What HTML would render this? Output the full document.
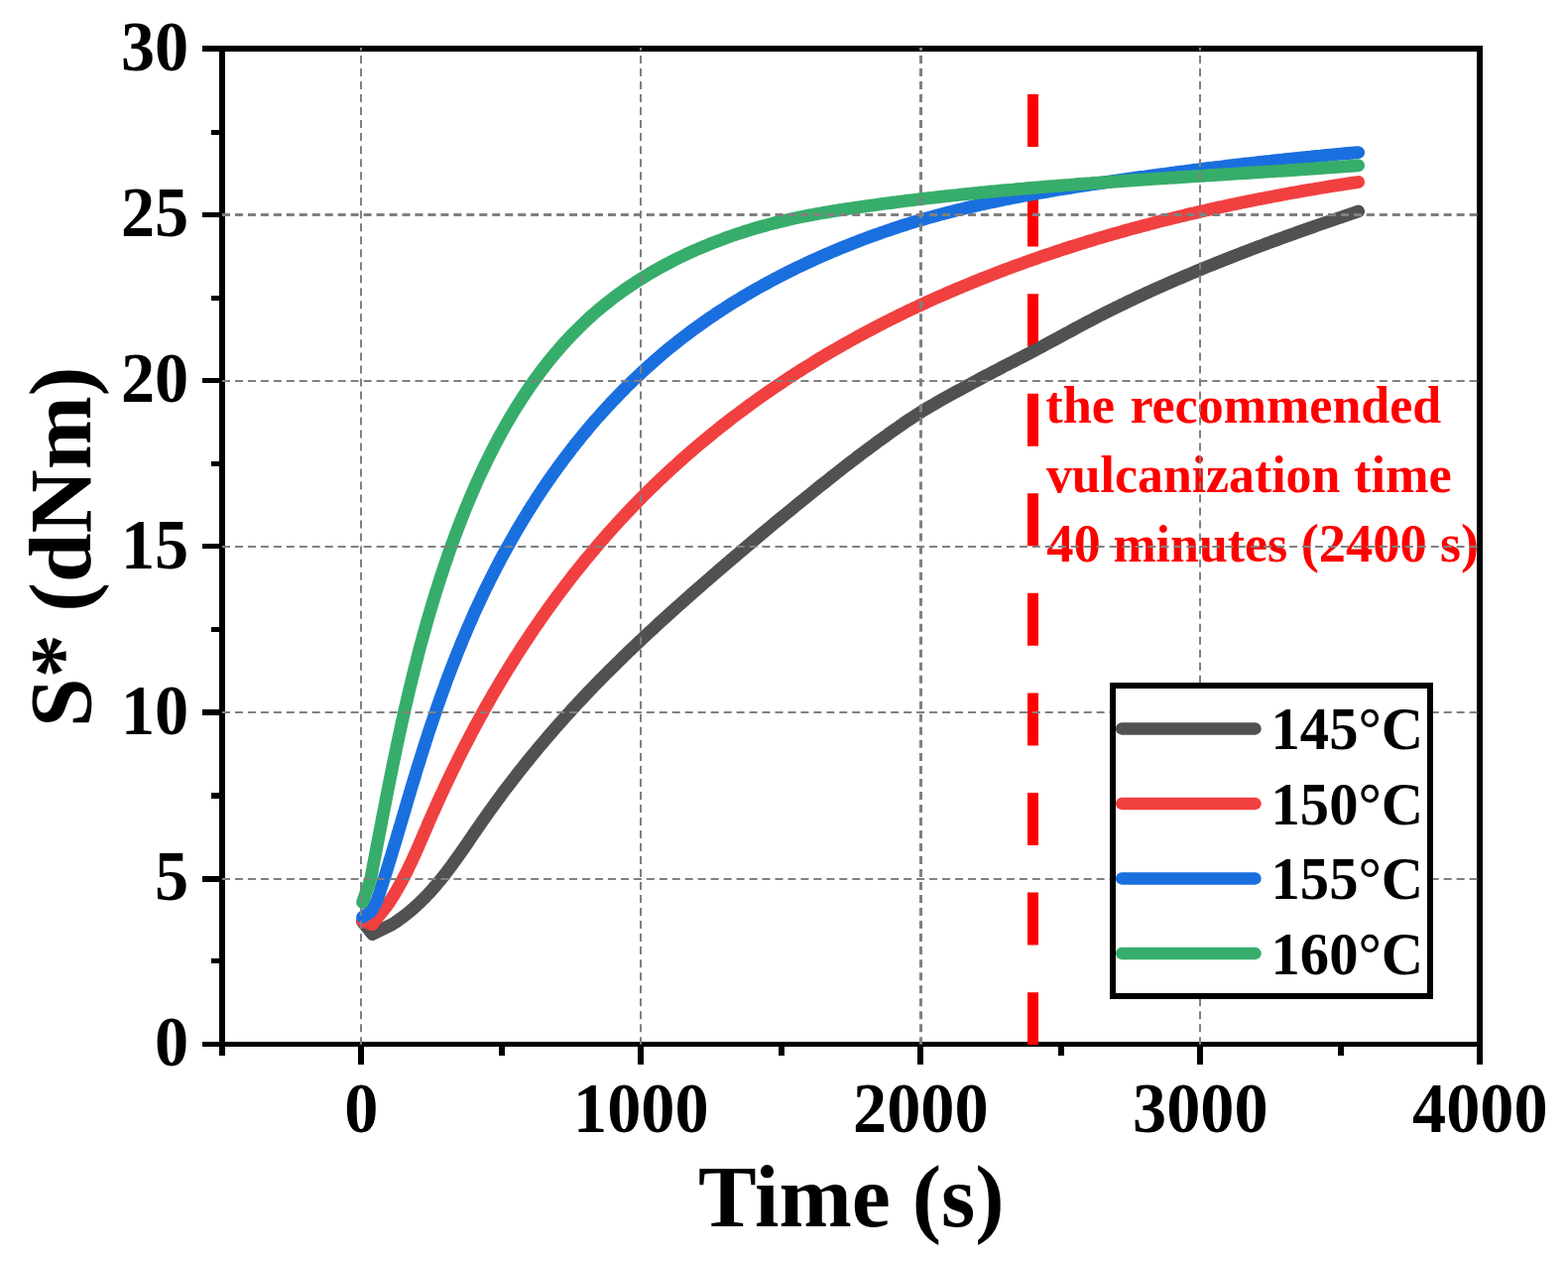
<!DOCTYPE html>
<html lang="en"><head><meta charset="utf-8"><title>S* vs Time</title>
<style>html,body{margin:0;padding:0;background:#fff;}body{width:1581px;height:1273px;overflow:hidden;}svg{display:block;}text{font-family:"Liberation Serif","Times New Roman",serif;font-weight:bold;}</style>
</head><body>
<svg width="1581" height="1273" viewBox="0 0 1581 1273" role="img" aria-label="S* versus Time vulcanization curves">
<rect x="0" y="0" width="1581" height="1273" fill="#ffffff"/>
<g fill="#000" shape-rendering="crispEdges">
<rect x="204" y="46" width="1291" height="6"/>
<rect x="204" y="1050" width="1291" height="5"/>
<rect x="221" y="46" width="6" height="1018"/>
<rect x="1489" y="46" width="6" height="1027"/>
<rect x="204" y="883" width="20" height="6"/>
<rect x="204" y="715" width="20" height="6"/>
<rect x="204" y="548" width="20" height="5"/>
<rect x="204" y="381" width="20" height="5"/>
<rect x="204" y="214" width="20" height="5"/>
<rect x="213" y="966" width="11" height="5"/>
<rect x="213" y="799" width="11" height="6"/>
<rect x="213" y="632" width="11" height="5"/>
<rect x="213" y="465" width="11" height="5"/>
<rect x="213" y="298" width="11" height="5"/>
<rect x="213" y="131" width="11" height="5"/>
<rect x="361" y="1052" width="6" height="21"/>
<rect x="643" y="1052" width="6" height="21"/>
<rect x="925" y="1052" width="6" height="21"/>
<rect x="1207" y="1052" width="6" height="21"/>
<rect x="503" y="1052" width="6" height="12"/>
<rect x="785" y="1052" width="6" height="12"/>
<rect x="1067" y="1052" width="6" height="12"/>
<rect x="1349" y="1052" width="6" height="12"/>
</g>
<line x1="1041.5" y1="95" x2="1041.5" y2="1053" stroke="#FF0000" stroke-width="11" stroke-dasharray="53 47.57"/>
<g fill="none" stroke-width="12.9" stroke-linecap="round" stroke-linejoin="round">
<path stroke="#515151" d="M365.5,929.0 L375.5,941.5 L395.5,931.6 L398.2,929.9 L400.8,928.1 L403.3,926.3 L405.8,924.5 L408.3,922.6 L410.7,920.7 L413.1,918.8 L415.5,916.8 L417.8,914.7 L420.1,912.7 L422.3,910.6 L424.5,908.5 L426.7,906.3 L428.9,904.1 L431.0,901.9 L433.1,899.7 L435.1,897.4 L437.2,895.1 L439.2,892.8 L441.1,890.5 L443.1,888.1 L445.0,885.8 L447.0,883.4 L448.9,880.9 L450.7,878.5 L452.6,876.1 L454.4,873.6 L456.3,871.1 L458.1,868.6 L459.9,866.1 L461.7,863.6 L463.5,861.1 L465.2,858.6 L467.0,856.0 L468.8,853.5 L470.5,850.9 L472.3,848.4 L474.0,845.8 L475.8,843.2 L477.5,840.7 L479.3,838.1 L481.0,835.5 L482.8,833.0 L484.6,830.4 L486.3,827.9 L488.1,825.3 L489.9,822.8 L491.7,820.3 L493.5,817.7 L495.3,815.2 L497.1,812.7 L498.9,810.2 L500.7,807.7 L502.6,805.2 L504.4,802.7 L506.2,800.2 L508.1,797.7 L510.0,795.2 L511.8,792.8 L513.7,790.3 L515.6,787.9 L517.5,785.4 L519.4,783.0 L521.3,780.5 L523.2,778.1 L525.1,775.7 L527.1,773.2 L529.0,770.8 L530.9,768.4 L532.9,766.0 L534.8,763.6 L536.8,761.2 L538.8,758.8 L540.7,756.4 L542.7,754.1 L544.7,751.7 L546.7,749.3 L548.7,747.0 L550.7,744.6 L552.7,742.3 L554.7,739.9 L556.8,737.6 L558.8,735.3 L560.8,732.9 L562.9,730.6 L564.9,728.3 L567.0,726.0 L569.0,723.7 L571.1,721.4 L573.2,719.1 L575.3,716.8 L577.3,714.5 L579.4,712.3 L581.5,710.0 L583.6,707.7 L585.7,705.5 L587.9,703.2 L590.0,701.0 L592.1,698.7 L594.2,696.5 L596.4,694.3 L598.5,692.0 L600.7,689.8 L602.8,687.6 L605.0,685.4 L607.1,683.2 L609.3,681.0 L611.5,678.8 L613.7,676.6 L615.9,674.4 L618.1,672.3 L620.3,670.1 L622.5,667.9 L624.7,665.8 L626.9,663.6 L629.1,661.4 L631.3,659.3 L633.5,657.2 L635.8,655.0 L638.0,652.9 L640.2,650.8 L642.5,648.6 L644.7,646.5 L647.0,644.4 L649.2,642.3 L651.5,640.2 L653.7,638.1 L656.0,636.0 L658.3,633.9 L660.6,631.8 L662.8,629.7 L665.1,627.6 L667.4,625.5 L669.7,623.4 L672.0,621.4 L674.3,619.3 L676.6,617.2 L678.9,615.2 L681.2,613.1 L683.5,611.0 L685.8,609.0 L688.1,606.9 L690.4,604.9 L692.7,602.8 L695.0,600.8 L697.4,598.7 L699.7,596.7 L702.0,594.7 L704.3,592.6 L706.7,590.6 L709.0,588.5 L711.3,586.5 L713.7,584.5 L716.0,582.5 L718.3,580.4 L720.7,578.4 L723.0,576.4 L725.3,574.4 L727.7,572.3 L730.0,570.3 L732.4,568.3 L734.7,566.3 L737.1,564.3 L739.4,562.3 L741.8,560.3 L744.1,558.3 L746.5,556.3 L748.9,554.3 L751.2,552.3 L753.6,550.3 L755.9,548.3 L758.3,546.3 L760.7,544.3 L763.0,542.3 L765.4,540.3 L767.8,538.3 L770.2,536.3 L772.5,534.3 L774.9,532.4 L777.3,530.4 L779.7,528.4 L782.0,526.4 L784.4,524.5 L786.8,522.5 L789.2,520.5 L791.6,518.6 L794.0,516.6 L796.4,514.7 L798.8,512.7 L801.2,510.7 L803.6,508.8 L806.0,506.8 L808.4,504.9 L810.8,503.0 L813.2,501.0 L815.6,499.1 L818.0,497.1 L820.4,495.2 L822.8,493.3 L825.2,491.3 L827.6,489.4 L830.1,487.5 L832.5,485.6 L834.9,483.7 L837.3,481.8 L839.7,479.8 L842.2,477.9 L844.6,476.0 L847.0,474.1 L849.5,472.2 L851.9,470.3 L854.3,468.4 L856.8,466.5 L859.2,464.7 L861.7,462.8 L864.1,460.9 L866.6,459.0 L869.0,457.2 L871.5,455.3 L874.0,453.5 L876.5,451.6 L878.9,449.8 L881.4,448.0 L883.9,446.1 L886.4,444.3 L888.9,442.5 L891.4,440.7 L893.9,438.9 L896.4,437.1 L898.9,435.3 L901.4,433.5 L904.0,431.7 L906.5,430.0 L909.0,428.2 L911.6,426.4 L914.1,424.7 L916.7,423.0 L919.2,421.3 L921.8,419.6 L924.4,417.9 L927.0,416.3 L929.6,414.6 L932.2,413.0 L934.9,411.4 L937.5,409.9 L940.2,408.3 L942.9,406.8 L945.5,405.2 L948.2,403.7 L950.9,402.2 L953.6,400.7 L956.3,399.2 L959.0,397.7 L961.7,396.2 L964.4,394.7 L967.1,393.3 L969.8,391.8 L972.5,390.3 L975.3,388.8 L978.0,387.4 L980.7,385.9 L983.4,384.4 L986.1,383.0 L988.8,381.5 L991.6,380.0 L994.3,378.6 L997.0,377.2 L999.8,375.7 L1002.5,374.3 L1005.2,372.9 L1008.0,371.5 L1010.7,370.0 L1013.5,368.6 L1016.2,367.2 L1019.0,365.8 L1021.7,364.4 L1024.4,363.0 L1027.2,361.6 L1029.9,360.2 L1032.7,358.7 L1035.4,357.3 L1038.2,355.9 L1040.9,354.4 L1043.6,353.0 L1046.3,351.6 L1049.1,350.1 L1051.8,348.7 L1054.5,347.2 L1057.2,345.7 L1059.9,344.3 L1062.7,342.8 L1065.4,341.3 L1068.1,339.9 L1070.8,338.4 L1073.5,336.9 L1076.2,335.4 L1079.0,334.0 L1081.7,332.5 L1084.4,331.0 L1087.1,329.6 L1089.8,328.1 L1092.6,326.7 L1095.3,325.2 L1098.0,323.8 L1100.8,322.4 L1103.5,320.9 L1106.2,319.5 L1109.0,318.1 L1111.7,316.7 L1114.5,315.3 L1117.2,313.9 L1120.0,312.6 L1122.8,311.2 L1125.5,309.8 L1128.3,308.5 L1131.1,307.1 L1133.9,305.8 L1136.6,304.4 L1139.4,303.1 L1142.2,301.8 L1145.0,300.5 L1147.8,299.1 L1150.6,297.8 L1153.4,296.5 L1156.2,295.2 L1159.0,294.0 L1161.8,292.7 L1164.7,291.4 L1167.5,290.1 L1170.3,288.9 L1173.1,287.6 L1175.9,286.4 L1178.8,285.1 L1181.6,283.9 L1184.4,282.6 L1187.3,281.4 L1190.1,280.2 L1193.0,279.0 L1195.8,277.8 L1198.6,276.6 L1201.5,275.4 L1204.3,274.2 L1207.2,273.0 L1210.1,271.8 L1212.9,270.6 L1215.8,269.4 L1218.6,268.3 L1221.5,267.1 L1224.4,266.0 L1227.2,264.8 L1230.1,263.7 L1233.0,262.5 L1235.9,261.4 L1238.7,260.2 L1241.6,259.1 L1244.5,258.0 L1247.4,256.9 L1250.3,255.7 L1253.2,254.6 L1256.1,253.5 L1258.9,252.4 L1261.8,251.3 L1264.7,250.2 L1267.6,249.1 L1270.5,248.0 L1273.4,247.0 L1276.3,245.9 L1279.2,244.8 L1282.1,243.7 L1285.0,242.7 L1287.9,241.6 L1290.8,240.5 L1293.7,239.5 L1296.6,238.4 L1299.6,237.4 L1302.5,236.3 L1305.4,235.3 L1308.3,234.2 L1311.2,233.2 L1314.1,232.2 L1317.0,231.1 L1319.9,230.1 L1322.9,229.1 L1325.8,228.0 L1328.7,227.0 L1331.6,226.0 L1334.5,225.0 L1337.5,224.0 L1340.4,223.0 L1343.3,222.0 L1346.2,221.0 L1349.1,220.0 L1352.1,219.0 L1355.0,218.0 L1357.9,217.0 L1360.8,216.0 L1363.8,215.0 L1366.7,214.0 L1369.6,213.0"/>
<path stroke="#F14040" d="M365.6,928.4 L375.4,931.5 L390.0,913.0 L391.9,910.3 L393.7,907.6 L395.4,904.9 L397.1,902.2 L398.8,899.4 L400.4,896.6 L402.0,893.8 L403.6,891.0 L405.1,888.2 L406.6,885.3 L408.1,882.5 L409.6,879.6 L411.0,876.7 L412.4,873.8 L413.8,870.9 L415.2,868.0 L416.5,865.1 L417.8,862.1 L419.2,859.2 L420.5,856.2 L421.8,853.3 L423.1,850.3 L424.4,847.4 L425.6,844.4 L426.9,841.4 L428.2,838.5 L429.5,835.5 L430.8,832.5 L432.0,829.5 L433.3,826.6 L434.6,823.6 L435.9,820.7 L437.3,817.7 L438.6,814.7 L439.9,811.8 L441.2,808.8 L442.6,805.9 L443.9,802.9 L445.3,800.0 L446.7,797.0 L448.0,794.1 L449.4,791.2 L450.8,788.2 L452.2,785.3 L453.6,782.4 L455.0,779.5 L456.4,776.5 L457.8,773.6 L459.3,770.7 L460.7,767.8 L462.1,764.9 L463.6,762.0 L465.0,759.1 L466.5,756.2 L468.0,753.3 L469.5,750.4 L471.0,747.6 L472.5,744.7 L474.0,741.8 L475.5,738.9 L477.0,736.1 L478.5,733.2 L480.0,730.4 L481.6,727.5 L483.1,724.7 L484.7,721.8 L486.3,719.0 L487.8,716.1 L489.4,713.3 L491.0,710.5 L492.6,707.7 L494.2,704.9 L495.8,702.1 L497.4,699.2 L499.1,696.4 L500.7,693.7 L502.3,690.9 L504.0,688.1 L505.6,685.3 L507.3,682.5 L509.0,679.8 L510.7,677.0 L512.4,674.2 L514.1,671.5 L515.8,668.7 L517.5,666.0 L519.2,663.3 L520.9,660.5 L522.7,657.8 L524.4,655.1 L526.2,652.4 L527.9,649.7 L529.7,647.0 L531.5,644.3 L533.3,641.6 L535.1,638.9 L536.9,636.2 L538.7,633.5 L540.5,630.9 L542.4,628.2 L544.2,625.6 L546.0,622.9 L547.9,620.3 L549.8,617.6 L551.6,615.0 L553.5,612.4 L555.4,609.8 L557.3,607.2 L559.2,604.5 L561.1,601.9 L563.0,599.4 L565.0,596.8 L566.9,594.2 L568.9,591.6 L570.8,589.0 L572.8,586.5 L574.8,583.9 L576.7,581.4 L578.7,578.8 L580.7,576.3 L582.8,573.8 L584.8,571.3 L586.8,568.8 L588.8,566.2 L590.9,563.7 L592.9,561.3 L595.0,558.8 L597.1,556.3 L599.2,553.8 L601.2,551.4 L603.3,548.9 L605.4,546.4 L607.6,544.0 L609.7,541.6 L611.8,539.1 L614.0,536.7 L616.1,534.3 L618.3,531.9 L620.5,529.5 L622.6,527.1 L624.8,524.7 L627.0,522.3 L629.2,520.0 L631.4,517.6 L633.7,515.3 L635.9,512.9 L638.2,510.6 L640.4,508.3 L642.7,505.9 L644.9,503.6 L647.2,501.3 L649.5,499.0 L651.8,496.7 L654.1,494.4 L656.4,492.2 L658.8,489.9 L661.1,487.6 L663.4,485.4 L665.8,483.1 L668.2,480.9 L670.5,478.7 L672.9,476.5 L675.3,474.3 L677.7,472.1 L680.1,469.9 L682.5,467.7 L684.9,465.5 L687.4,463.3 L689.8,461.2 L692.2,459.0 L694.7,456.9 L697.2,454.8 L699.6,452.7 L702.1,450.5 L704.6,448.4 L707.1,446.3 L709.6,444.3 L712.1,442.2 L714.6,440.1 L717.1,438.1 L719.6,436.0 L722.2,434.0 L724.7,431.9 L727.3,429.9 L729.8,427.9 L732.4,425.9 L734.9,423.9 L737.5,421.9 L740.1,419.9 L742.7,418.0 L745.3,416.0 L747.9,414.1 L750.5,412.1 L753.1,410.2 L755.7,408.3 L758.3,406.4 L761.0,404.5 L763.6,402.6 L766.2,400.7 L768.9,398.9 L771.5,397.0 L774.2,395.2 L776.8,393.3 L779.5,391.5 L782.2,389.7 L784.9,387.9 L787.6,386.1 L790.2,384.3 L792.9,382.5 L795.6,380.7 L798.4,378.9 L801.1,377.2 L803.8,375.4 L806.5,373.7 L809.2,372.0 L812.0,370.3 L814.7,368.6 L817.5,366.9 L820.2,365.2 L823.0,363.5 L825.7,361.8 L828.5,360.1 L831.3,358.5 L834.0,356.8 L836.8,355.2 L839.6,353.6 L842.4,352.0 L845.2,350.4 L848.0,348.8 L850.8,347.2 L853.6,345.6 L856.4,344.0 L859.3,342.4 L862.1,340.9 L864.9,339.3 L867.8,337.8 L870.6,336.3 L873.4,334.7 L876.3,333.2 L879.1,331.7 L882.0,330.2 L884.9,328.7 L887.7,327.3 L890.6,325.8 L893.5,324.3 L896.4,322.9 L899.2,321.4 L902.1,320.0 L905.0,318.6 L907.9,317.1 L910.8,315.7 L913.7,314.3 L916.6,312.9 L919.6,311.5 L922.5,310.2 L925.4,308.8 L928.3,307.4 L931.3,306.1 L934.2,304.7 L937.1,303.4 L940.1,302.0 L943.0,300.7 L946.0,299.4 L948.9,298.1 L951.9,296.8 L954.8,295.5 L957.8,294.2 L960.8,293.0 L963.7,291.7 L966.7,290.4 L969.7,289.2 L972.7,287.9 L975.7,286.7 L978.7,285.5 L981.7,284.2 L984.7,283.0 L987.7,281.8 L990.7,280.6 L993.7,279.4 L996.7,278.2 L999.7,277.1 L1002.7,275.9 L1005.7,274.7 L1008.8,273.6 L1011.8,272.4 L1014.8,271.3 L1017.8,270.2 L1020.9,269.0 L1023.9,267.9 L1027.0,266.8 L1030.0,265.7 L1033.1,264.6 L1036.1,263.5 L1039.2,262.4 L1042.2,261.4 L1045.3,260.3 L1048.3,259.2 L1051.4,258.2 L1054.5,257.1 L1057.5,256.1 L1060.6,255.1 L1063.7,254.0 L1066.8,253.0 L1069.8,252.0 L1072.9,251.0 L1076.0,250.0 L1079.1,249.0 L1082.2,248.0 L1085.3,247.1 L1088.4,246.1 L1091.5,245.1 L1094.6,244.2 L1097.7,243.2 L1100.8,242.3 L1103.9,241.3 L1107.0,240.4 L1110.1,239.5 L1113.2,238.6 L1116.3,237.6 L1119.5,236.7 L1122.6,235.8 L1125.7,235.0 L1128.8,234.1 L1132.0,233.2 L1135.1,232.3 L1138.2,231.4 L1141.3,230.6 L1144.5,229.7 L1147.6,228.9 L1150.8,228.0 L1153.9,227.2 L1157.0,226.4 L1160.2,225.6 L1163.3,224.7 L1166.5,223.9 L1169.6,223.1 L1172.8,222.3 L1175.9,221.5 L1179.1,220.7 L1182.2,220.0 L1185.4,219.2 L1188.5,218.4 L1191.7,217.7 L1194.8,216.9 L1198.0,216.1 L1201.1,215.4 L1204.3,214.7 L1207.5,213.9 L1210.6,213.2 L1213.8,212.5 L1217.0,211.8 L1220.1,211.0 L1223.3,210.3 L1226.5,209.6 L1229.6,208.9 L1232.8,208.3 L1236.0,207.6 L1239.2,206.9 L1242.3,206.2 L1245.5,205.6 L1248.7,204.9 L1251.9,204.2 L1255.0,203.6 L1258.2,202.9 L1261.4,202.3 L1264.6,201.7 L1267.7,201.0 L1270.9,200.4 L1274.1,199.8 L1277.3,199.2 L1280.5,198.6 L1283.6,198.0 L1286.8,197.4 L1290.0,196.8 L1293.2,196.2 L1296.4,195.6 L1299.6,195.0 L1302.7,194.4 L1305.9,193.9 L1309.1,193.3 L1312.3,192.7 L1315.5,192.2 L1318.7,191.6 L1321.8,191.1 L1325.0,190.6 L1328.2,190.0 L1331.4,189.5 L1334.6,189.0 L1337.8,188.4 L1341.0,187.9 L1344.1,187.4 L1347.3,186.9 L1350.5,186.4 L1353.7,185.9 L1356.9,185.4 L1360.0,184.9 L1363.2,184.4 L1366.4,184.0 L1369.6,183.5"/>
<path stroke="#1A6FDF" d="M365.6,924.3 L374.0,918.8 L380.0,908.0 L381.1,904.7 L382.2,901.5 L383.3,898.2 L384.3,894.9 L385.4,891.6 L386.5,888.3 L387.5,885.1 L388.5,881.8 L389.6,878.5 L390.6,875.2 L391.6,871.9 L392.6,868.6 L393.6,865.3 L394.6,862.0 L395.6,858.7 L396.6,855.4 L397.6,852.1 L398.6,848.8 L399.6,845.5 L400.6,842.2 L401.6,838.9 L402.5,835.6 L403.5,832.3 L404.5,829.0 L405.5,825.7 L406.4,822.4 L407.4,819.1 L408.4,815.8 L409.3,812.5 L410.3,809.2 L411.3,805.8 L412.3,802.5 L413.3,799.2 L414.2,795.9 L415.2,792.6 L416.2,789.4 L417.2,786.1 L418.2,782.8 L419.2,779.5 L420.2,776.2 L421.2,772.9 L422.3,769.6 L423.3,766.3 L424.3,763.0 L425.3,759.8 L426.4,756.5 L427.4,753.2 L428.5,749.9 L429.5,746.7 L430.6,743.4 L431.6,740.1 L432.7,736.8 L433.8,733.6 L434.9,730.3 L436.0,727.1 L437.1,723.8 L438.2,720.6 L439.3,717.3 L440.4,714.1 L441.5,710.8 L442.7,707.6 L443.8,704.3 L445.0,701.1 L446.1,697.9 L447.3,694.6 L448.5,691.4 L449.6,688.2 L450.8,684.9 L452.0,681.7 L453.3,678.5 L454.5,675.3 L455.7,672.1 L456.9,668.9 L458.2,665.7 L459.5,662.5 L460.7,659.3 L462.0,656.1 L463.3,652.9 L464.6,649.7 L465.9,646.5 L467.2,643.3 L468.6,640.2 L469.9,637.0 L471.3,633.8 L472.6,630.7 L474.0,627.5 L475.4,624.3 L476.8,621.2 L478.2,618.0 L479.6,614.9 L481.1,611.8 L482.5,608.6 L484.0,605.5 L485.5,602.4 L486.9,599.2 L488.4,596.1 L489.9,593.0 L491.5,589.9 L493.0,586.8 L494.5,583.7 L496.1,580.6 L497.6,577.6 L499.2,574.5 L500.8,571.4 L502.4,568.4 L504.0,565.3 L505.6,562.3 L507.3,559.2 L508.9,556.2 L510.6,553.1 L512.3,550.1 L514.0,547.1 L515.7,544.1 L517.4,541.1 L519.1,538.1 L520.8,535.1 L522.6,532.1 L524.3,529.2 L526.1,526.2 L527.9,523.2 L529.7,520.3 L531.5,517.4 L533.3,514.4 L535.2,511.5 L537.0,508.6 L538.9,505.7 L540.7,502.8 L542.6,499.9 L544.5,497.0 L546.4,494.1 L548.4,491.3 L550.3,488.4 L552.2,485.6 L554.2,482.8 L556.2,479.9 L558.2,477.1 L560.2,474.3 L562.2,471.5 L564.2,468.7 L566.3,466.0 L568.3,463.2 L570.4,460.4 L572.5,457.7 L574.6,455.0 L576.7,452.2 L578.8,449.5 L580.9,446.8 L583.1,444.1 L585.2,441.5 L587.4,438.8 L589.6,436.1 L591.8,433.5 L594.0,430.9 L596.2,428.2 L598.5,425.6 L600.7,423.0 L603.0,420.5 L605.3,417.9 L607.6,415.3 L609.9,412.8 L612.2,410.2 L614.6,407.7 L616.9,405.2 L619.3,402.7 L621.7,400.2 L624.0,397.8 L626.5,395.3 L628.9,392.9 L631.3,390.4 L633.7,388.0 L636.2,385.6 L638.7,383.2 L641.2,380.8 L643.7,378.5 L646.2,376.1 L648.7,373.8 L651.2,371.5 L653.8,369.2 L656.3,366.9 L658.9,364.6 L661.5,362.3 L664.1,360.1 L666.7,357.8 L669.4,355.6 L672.0,353.4 L674.6,351.2 L677.3,349.1 L680.0,346.9 L682.7,344.8 L685.4,342.6 L688.1,340.5 L690.8,338.4 L693.6,336.4 L696.3,334.3 L699.1,332.2 L701.9,330.2 L704.7,328.2 L707.5,326.2 L710.3,324.2 L713.1,322.3 L715.9,320.3 L718.8,318.4 L721.6,316.4 L724.5,314.5 L727.4,312.7 L730.3,310.8 L733.2,308.9 L736.1,307.1 L739.0,305.3 L742.0,303.4 L744.9,301.7 L747.9,299.9 L750.8,298.1 L753.8,296.4 L756.8,294.6 L759.8,292.9 L762.8,291.2 L765.8,289.5 L768.8,287.8 L771.8,286.2 L774.9,284.5 L777.9,282.9 L780.9,281.3 L784.0,279.7 L787.1,278.1 L790.1,276.5 L793.2,274.9 L796.3,273.4 L799.4,271.9 L802.5,270.3 L805.6,268.8 L808.7,267.4 L811.9,265.9 L815.0,264.4 L818.1,263.0 L821.3,261.5 L824.4,260.1 L827.6,258.7 L830.7,257.3 L833.9,256.0 L837.1,254.6 L840.2,253.2 L843.4,251.9 L846.6,250.6 L849.8,249.3 L853.0,248.0 L856.2,246.7 L859.4,245.4 L862.6,244.2 L865.8,242.9 L869.0,241.7 L872.3,240.5 L875.5,239.3 L878.7,238.1 L882.0,236.9 L885.2,235.8 L888.5,234.6 L891.7,233.5 L895.0,232.4 L898.2,231.3 L901.5,230.2 L904.8,229.1 L908.0,228.0 L911.3,227.0 L914.6,226.0 L917.9,224.9 L921.2,223.9 L924.4,222.9 L927.7,222.0 L931.0,221.0 L934.3,220.0 L937.6,219.1 L941.0,218.2 L944.3,217.3 L947.6,216.4 L950.9,215.5 L954.2,214.6 L957.6,213.8 L960.9,212.9 L964.2,212.1 L967.6,211.2 L970.9,210.4 L974.2,209.6 L977.6,208.8 L980.9,208.1 L984.3,207.3 L987.6,206.5 L991.0,205.8 L994.4,205.0 L997.7,204.3 L1001.1,203.6 L1004.4,202.9 L1007.8,202.2 L1011.2,201.5 L1014.6,200.8 L1017.9,200.1 L1021.3,199.5 L1024.7,198.8 L1028.1,198.2 L1031.4,197.5 L1034.8,196.9 L1038.2,196.3 L1041.6,195.7 L1045.0,195.0 L1048.4,194.4 L1051.8,193.8 L1055.2,193.3 L1058.6,192.7 L1062.0,192.1 L1065.4,191.5 L1068.8,190.9 L1072.2,190.4 L1075.6,189.8 L1079.0,189.3 L1082.4,188.7 L1085.8,188.2 L1089.2,187.6 L1092.6,187.1 L1096.0,186.6 L1099.4,186.1 L1102.8,185.5 L1106.2,185.0 L1109.6,184.5 L1113.0,184.0 L1116.5,183.5 L1119.9,183.0 L1123.3,182.5 L1126.7,182.0 L1130.1,181.5 L1133.5,181.0 L1136.9,180.5 L1140.3,180.0 L1143.7,179.5 L1147.2,179.0 L1150.6,178.5 L1154.0,178.1 L1157.4,177.6 L1160.8,177.1 L1164.2,176.6 L1167.6,176.2 L1171.1,175.7 L1174.5,175.3 L1177.9,174.8 L1181.3,174.3 L1184.7,173.9 L1188.1,173.4 L1191.6,173.0 L1195.0,172.6 L1198.4,172.1 L1201.8,171.7 L1205.2,171.2 L1208.7,170.8 L1212.1,170.4 L1215.5,169.9 L1218.9,169.5 L1222.3,169.1 L1225.8,168.7 L1229.2,168.3 L1232.6,167.9 L1236.0,167.4 L1239.4,167.0 L1242.9,166.6 L1246.3,166.2 L1249.7,165.8 L1253.1,165.4 L1256.5,165.0 L1260.0,164.7 L1263.4,164.3 L1266.8,163.9 L1270.2,163.5 L1273.7,163.1 L1277.1,162.7 L1280.5,162.4 L1283.9,162.0 L1287.4,161.6 L1290.8,161.3 L1294.2,160.9 L1297.6,160.5 L1301.1,160.2 L1304.5,159.8 L1307.9,159.5 L1311.3,159.1 L1314.8,158.8 L1318.2,158.4 L1321.6,158.1 L1325.0,157.7 L1328.5,157.4 L1331.9,157.1 L1335.3,156.7 L1338.7,156.4 L1342.2,156.1 L1345.6,155.8 L1349.0,155.4 L1352.5,155.1 L1355.9,154.8 L1359.3,154.5 L1362.7,154.2 L1366.2,153.9 L1369.6,153.6"/>
<path stroke="#37AD6B" d="M365.6,909.5 L373.7,885.9 L374.4,882.4 L375.1,878.8 L375.8,875.3 L376.4,871.7 L377.1,868.2 L377.8,864.7 L378.5,861.1 L379.2,857.6 L379.8,854.1 L380.5,850.6 L381.2,847.0 L381.9,843.5 L382.5,840.0 L383.2,836.5 L383.9,833.0 L384.6,829.5 L385.2,825.9 L385.9,822.4 L386.6,818.9 L387.3,815.4 L388.0,811.9 L388.7,808.4 L389.3,804.9 L390.0,801.5 L390.7,798.0 L391.4,794.5 L392.1,791.0 L392.8,787.5 L393.5,784.0 L394.2,780.5 L394.9,777.1 L395.6,773.6 L396.3,770.1 L397.0,766.7 L397.8,763.2 L398.5,759.7 L399.2,756.3 L399.9,752.8 L400.7,749.3 L401.4,745.9 L402.1,742.4 L402.9,739.0 L403.6,735.5 L404.4,732.1 L405.1,728.6 L405.9,725.2 L406.7,721.7 L407.5,718.3 L408.2,714.8 L409.0,711.4 L409.8,708.0 L410.6,704.5 L411.4,701.1 L412.2,697.6 L413.0,694.2 L413.9,690.8 L414.7,687.4 L415.5,683.9 L416.4,680.5 L417.2,677.1 L418.1,673.7 L418.9,670.2 L419.8,666.8 L420.7,663.4 L421.5,660.0 L422.4,656.6 L423.3,653.2 L424.2,649.7 L425.2,646.3 L426.1,642.9 L427.0,639.5 L428.0,636.1 L428.9,632.7 L429.9,629.3 L430.8,625.9 L431.8,622.5 L432.8,619.1 L433.8,615.7 L434.8,612.3 L435.8,608.9 L436.9,605.5 L437.9,602.1 L438.9,598.7 L440.0,595.3 L441.1,592.0 L442.1,588.6 L443.2,585.2 L444.3,581.8 L445.4,578.4 L446.6,575.0 L447.7,571.6 L448.8,568.3 L450.0,564.9 L451.2,561.5 L452.3,558.1 L453.5,554.7 L454.7,551.4 L455.9,548.0 L457.2,544.6 L458.4,541.2 L459.7,537.9 L460.9,534.5 L462.2,531.1 L463.5,527.7 L464.8,524.4 L466.1,521.0 L467.5,517.7 L468.8,514.3 L470.2,511.0 L471.6,507.6 L472.9,504.3 L474.4,501.0 L475.8,497.6 L477.2,494.3 L478.7,491.0 L480.1,487.7 L481.6,484.4 L483.1,481.1 L484.6,477.8 L486.1,474.5 L487.7,471.3 L489.2,468.0 L490.8,464.8 L492.4,461.5 L494.0,458.3 L495.6,455.1 L497.3,451.9 L498.9,448.7 L500.6,445.5 L502.3,442.3 L504.0,439.1 L505.7,436.0 L507.5,432.8 L509.2,429.7 L511.0,426.6 L512.8,423.5 L514.6,420.4 L516.5,417.3 L518.3,414.3 L520.2,411.2 L522.1,408.2 L524.0,405.2 L525.9,402.2 L527.9,399.2 L529.8,396.2 L531.8,393.3 L533.8,390.3 L535.9,387.4 L537.9,384.5 L540.0,381.6 L542.1,378.8 L544.2,375.9 L546.3,373.1 L548.5,370.3 L550.6,367.5 L552.8,364.7 L555.0,362.0 L557.3,359.3 L559.5,356.5 L561.8,353.9 L564.1,351.2 L566.4,348.6 L568.8,345.9 L571.2,343.3 L573.6,340.8 L576.0,338.2 L578.4,335.7 L580.9,333.2 L583.4,330.7 L585.9,328.2 L588.4,325.8 L590.9,323.4 L593.5,321.0 L596.1,318.7 L598.8,316.3 L601.4,314.0 L604.1,311.7 L606.8,309.5 L609.5,307.3 L612.3,305.1 L615.0,302.9 L617.8,300.8 L620.6,298.6 L623.5,296.5 L626.3,294.5 L629.2,292.4 L632.1,290.4 L635.0,288.4 L638.0,286.5 L640.9,284.5 L643.9,282.6 L646.9,280.7 L649.9,278.9 L652.9,277.0 L656.0,275.2 L659.1,273.4 L662.1,271.7 L665.2,269.9 L668.4,268.2 L671.5,266.5 L674.6,264.9 L677.8,263.2 L681.0,261.6 L684.2,260.0 L687.4,258.5 L690.6,256.9 L693.9,255.4 L697.1,253.9 L700.4,252.5 L703.7,251.0 L707.0,249.6 L710.3,248.2 L713.6,246.9 L716.9,245.5 L720.2,244.2 L723.6,242.9 L726.9,241.7 L730.3,240.4 L733.7,239.2 L737.1,238.0 L740.4,236.8 L743.8,235.7 L747.3,234.6 L750.7,233.5 L754.1,232.4 L757.5,231.3 L761.0,230.3 L764.4,229.3 L767.9,228.3 L771.3,227.4 L774.8,226.4 L778.2,225.5 L781.7,224.6 L785.2,223.8 L788.7,222.9 L792.2,222.1 L795.6,221.3 L799.1,220.5 L802.6,219.8 L806.1,219.0 L809.6,218.3 L813.1,217.6 L816.6,216.9 L820.1,216.3 L823.6,215.6 L827.1,215.0 L830.6,214.4 L834.2,213.8 L837.7,213.2 L841.2,212.6 L844.7,212.0 L848.2,211.5 L851.8,210.9 L855.3,210.4 L858.8,209.9 L862.3,209.3 L865.8,208.8 L869.4,208.3 L872.9,207.8 L876.4,207.3 L880.0,206.8 L883.5,206.4 L887.0,205.9 L890.5,205.4 L894.1,204.9 L897.6,204.5 L901.1,204.0 L904.7,203.6 L908.2,203.1 L911.7,202.7 L915.3,202.2 L918.8,201.8 L922.3,201.4 L925.9,200.9 L929.4,200.5 L932.9,200.1 L936.5,199.7 L940.0,199.3 L943.5,198.9 L947.1,198.5 L950.6,198.1 L954.1,197.7 L957.7,197.3 L961.2,196.9 L964.8,196.6 L968.3,196.2 L971.8,195.8 L975.4,195.5 L978.9,195.1 L982.5,194.7 L986.0,194.4 L989.5,194.0 L993.1,193.7 L996.6,193.3 L1000.2,193.0 L1003.7,192.7 L1007.3,192.3 L1010.8,192.0 L1014.3,191.7 L1017.9,191.4 L1021.4,191.1 L1025.0,190.7 L1028.5,190.4 L1032.1,190.1 L1035.6,189.8 L1039.2,189.5 L1042.7,189.2 L1046.3,188.9 L1049.8,188.6 L1053.4,188.3 L1056.9,188.0 L1060.4,187.7 L1064.0,187.5 L1067.5,187.2 L1071.1,186.9 L1074.6,186.6 L1078.2,186.4 L1081.7,186.1 L1085.3,185.8 L1088.8,185.5 L1092.4,185.3 L1095.9,185.0 L1099.5,184.8 L1103.0,184.5 L1106.6,184.2 L1110.1,184.0 L1113.7,183.7 L1117.2,183.5 L1120.8,183.2 L1124.3,183.0 L1127.9,182.7 L1131.5,182.5 L1135.0,182.2 L1138.6,182.0 L1142.1,181.8 L1145.7,181.5 L1149.2,181.3 L1152.8,181.1 L1156.3,180.8 L1159.9,180.6 L1163.4,180.3 L1167.0,180.1 L1170.5,179.9 L1174.1,179.7 L1177.6,179.4 L1181.2,179.2 L1184.8,179.0 L1188.3,178.7 L1191.9,178.5 L1195.4,178.3 L1199.0,178.1 L1202.5,177.8 L1206.1,177.6 L1209.6,177.4 L1213.2,177.2 L1216.7,176.9 L1220.3,176.7 L1223.9,176.5 L1227.4,176.3 L1231.0,176.0 L1234.5,175.8 L1238.1,175.6 L1241.6,175.4 L1245.2,175.1 L1248.7,174.9 L1252.3,174.7 L1255.9,174.5 L1259.4,174.2 L1263.0,174.0 L1266.5,173.8 L1270.1,173.6 L1273.6,173.3 L1277.2,173.1 L1280.7,172.9 L1284.3,172.7 L1287.9,172.4 L1291.4,172.2 L1295.0,172.0 L1298.5,171.7 L1302.1,171.5 L1305.6,171.3 L1309.2,171.0 L1312.7,170.8 L1316.3,170.5 L1319.8,170.3 L1323.4,170.1 L1327.0,169.8 L1330.5,169.6 L1334.1,169.3 L1337.6,169.1 L1341.2,168.8 L1344.7,168.6 L1348.3,168.3 L1351.8,168.1 L1355.4,167.8 L1358.9,167.6 L1362.5,167.3 L1366.0,167.0 L1369.6,166.8"/>
</g>
<svg x="227" y="52" width="1262" height="998" viewBox="227 52 1262 998" overflow="hidden">
<g fill="#FF0000">
<text x="1054.2" y="426.4" font-size="52.4">the</text>
<text x="1139.4" y="426.4" font-size="52.0">recommended</text>
<text x="1054.9" y="496.0" font-size="51.8">vulcanization</text>
<text x="1365.0" y="496.0" font-size="52.3">time</text>
<text x="1055.2" y="565.5" font-size="54.5">40</text>
<text x="1122.4" y="565.5" font-size="51.9">minutes</text>
<text x="1311.7" y="565.5" font-size="54.5">(2400</text>
<text x="1451.9" y="565.5" font-size="54.0">s)</text>
</g>
</svg>
<g stroke="#808080" fill="none">
<line x1="364.0" y1="48" x2="364.0" y2="1052.8" stroke-width="2" stroke-dasharray="8 5.016" stroke-dashoffset="5"/>
<line x1="646.0" y1="48" x2="646.0" y2="1052.8" stroke-width="2" stroke-dasharray="8 5.016" stroke-dashoffset="5"/>
<line x1="928.5" y1="48" x2="928.5" y2="1052.8" stroke-width="3" stroke-dasharray="8 5.016" stroke-dashoffset="5"/>
<line x1="1210.0" y1="48" x2="1210.0" y2="1052.8" stroke-width="2" stroke-dasharray="8 5.016" stroke-dashoffset="5"/>
<line x1="224" y1="886.0" x2="1490" y2="886.0" stroke-width="2" stroke-dasharray="8 4.965"/>
<line x1="224" y1="718.0" x2="1490" y2="718.0" stroke-width="2" stroke-dasharray="8 4.965"/>
<line x1="224" y1="551.0" x2="1490" y2="551.0" stroke-width="2" stroke-dasharray="8 4.965"/>
<line x1="224" y1="384.0" x2="1490" y2="384.0" stroke-width="2" stroke-dasharray="8 4.965"/>
<line x1="224" y1="216.5" x2="1490" y2="216.5" stroke-width="3" stroke-dasharray="8 4.965"/>
</g>
<rect x="1122" y="691" width="320" height="313" fill="#ffffff" stroke="#000" stroke-width="6" shape-rendering="crispEdges"/>
<g stroke-width="12.3" stroke-linecap="round">
<line x1="1131" y1="734.5" x2="1265.6" y2="734.5" stroke="#515151"/>
<line x1="1131" y1="810.0" x2="1265.6" y2="810.0" stroke="#F14040"/>
<line x1="1131" y1="885.5" x2="1265.6" y2="885.5" stroke="#1A6FDF"/>
<line x1="1131" y1="961.0" x2="1265.6" y2="961.0" stroke="#37AD6B"/>
</g>
<g fill="#000" font-size="61">
<text transform="translate(1281.6,755.4) scale(0.96,1)">145°C</text>
<text transform="translate(1281.6,830.8) scale(0.96,1)">150°C</text>
<text transform="translate(1281.6,906.2) scale(0.96,1)">155°C</text>
<text transform="translate(1281.6,981.6) scale(0.96,1)">160°C</text>
</g>
<g fill="#000" font-size="71.6">
<text transform="translate(190.1,1074.2) scale(0.953,1)" text-anchor="end">0</text>
<text transform="translate(190.1,907.0) scale(0.953,1)" text-anchor="end">5</text>
<text transform="translate(190.1,739.8) scale(0.953,1)" text-anchor="end">10</text>
<text transform="translate(190.1,572.5) scale(0.953,1)" text-anchor="end">15</text>
<text transform="translate(190.1,405.2) scale(0.953,1)" text-anchor="end">20</text>
<text transform="translate(190.1,238.0) scale(0.953,1)" text-anchor="end">25</text>
<text transform="translate(190.1,70.7) scale(0.953,1)" text-anchor="end">30</text>
<text transform="translate(364.3,1140.6) scale(0.953,1)" text-anchor="middle">0</text>
<text transform="translate(646.3,1140.6) scale(0.953,1)" text-anchor="middle">1000</text>
<text transform="translate(928.3,1140.6) scale(0.953,1)" text-anchor="middle">2000</text>
<text transform="translate(1210.3,1140.6) scale(0.953,1)" text-anchor="middle">3000</text>
<text transform="translate(1492.3,1140.6) scale(0.953,1)" text-anchor="middle">4000</text>
</g>
<text x="703.9" y="1235.6" font-size="88" fill="#000">Time (s)</text>
<text transform="translate(91,733) rotate(-90)" font-size="89" fill="#000">S* (dNm)</text>
</svg>
</body></html>
